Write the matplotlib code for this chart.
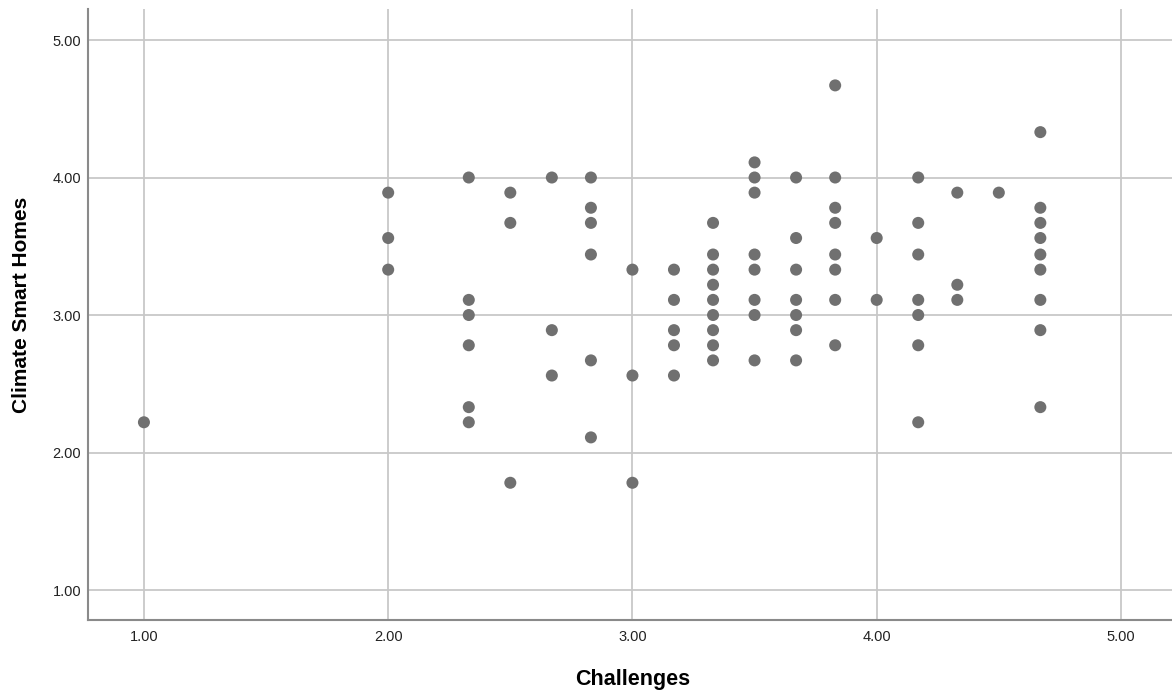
import matplotlib
matplotlib.use("Agg")
import matplotlib.pyplot as plt
from matplotlib.ticker import FormatStrFormatter

# Data (Challenges vs Climate Smart Homes)
columns = {
    1.00: [2.22],
    2.00: [3.89, 3.56, 3.33],
    2.33: [4.00, 3.11, 3.00, 2.78, 2.33, 2.22],
    2.50: [3.89, 3.67, 1.78],
    2.67: [4.00, 2.89, 2.56],
    2.83: [4.00, 3.78, 3.67, 3.44, 2.67, 2.11],
    3.00: [3.33, 2.56, 1.78],
    3.17: [3.33, 3.11, 2.89, 2.78, 2.56],
    3.33: [3.67, 3.44, 3.33, 3.22, 3.11, 3.00, 2.89, 2.78, 2.67],
    3.50: [4.11, 4.00, 3.89, 3.44, 3.33, 3.11, 3.00, 2.67],
    3.67: [4.00, 3.56, 3.33, 3.11, 3.00, 2.89, 2.67],
    3.83: [4.67, 4.00, 3.78, 3.67, 3.44, 3.33, 3.11, 2.78],
    4.00: [3.56, 3.11],
    4.17: [4.00, 3.67, 3.44, 3.11, 3.00, 2.78, 2.22],
    4.33: [3.89, 3.22, 3.11],
    4.50: [3.89],
    4.67: [4.33, 3.78, 3.67, 3.56, 3.44, 3.33, 3.11, 2.89, 2.33],
}
challenges = [x for x, ys in columns.items() for _ in ys]
climate_smart_homes = [y for ys in columns.values() for y in ys]

x_ticks = [1.0, 2.0, 3.0, 4.0, 5.0]
y_ticks = [1.0, 2.0, 3.0, 4.0, 5.0]
x_label = "Challenges"
y_label = "Climate Smart Homes"

plt.rcParams['font.family'] = ['Liberation Sans', 'DejaVu Sans']

W, H = 1172, 693
fig = plt.figure(figsize=(W / 100, H / 100), dpi=100)
left, right, top, bottom = 88, 1172, 9, 620
ax = fig.add_axes([left / W, 1 - bottom / H, (right - left) / W, (bottom - top) / H])

ax.scatter(challenges, climate_smart_homes, s=75, color='#707070',
           edgecolors='none', zorder=3)

ax.set_xlim(0.771, 5.209)
ax.set_ylim(0.782, 5.2255)
ax.set_xticks(x_ticks)
ax.set_yticks(y_ticks)
ax.xaxis.set_major_formatter(FormatStrFormatter('%.2f'))
ax.yaxis.set_major_formatter(FormatStrFormatter('%.2f'))

ax.grid(True, color='#c8c8c8', linewidth=1.3, zorder=0)
ax.set_axisbelow(True)

for s in ['top', 'right']:
    ax.spines[s].set_visible(False)
for s in ['left', 'bottom']:
    ax.spines[s].set_color('#8a8a8a')
    ax.spines[s].set_linewidth(1.5)

ax.tick_params(axis='x', length=0, pad=7, labelsize=10.5, labelcolor='#222222')
ax.tick_params(axis='y', length=0, pad=5, labelsize=10.5, labelcolor='#222222')

ax.set_xlabel(x_label, fontsize=15.5, fontweight='bold', va='center')
ax.set_ylabel(y_label, fontsize=15, fontweight='bold', va='center')
ax.xaxis.set_label_coords((632.5 - left) / (right - left), (bottom - 679) / (bottom - top))
ax.yaxis.set_label_coords((21 - left) / (right - left), (bottom - 305) / (bottom - top))

fig.savefig("out.png", dpi=100)
